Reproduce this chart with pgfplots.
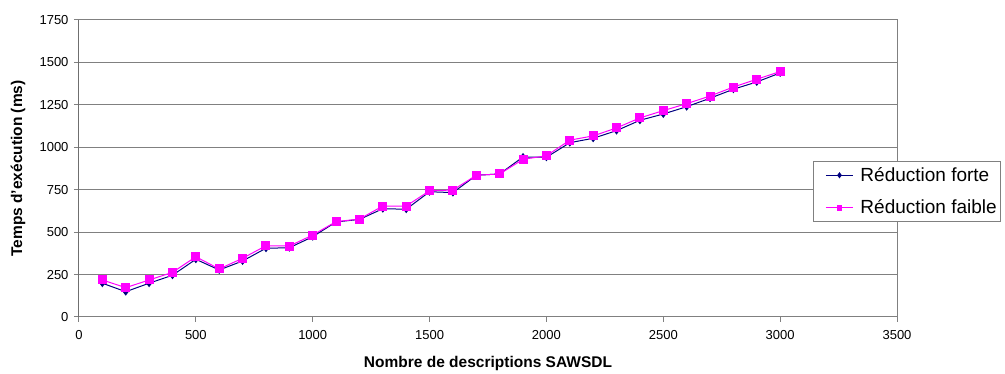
\documentclass[border=0pt]{standalone}
\usepackage{fontspec}
\setmainfont{Liberation Sans}
\usepackage{pgfplots}
\pgfplotsset{compat=1.18}
\definecolor{forte}{RGB}{0,0,128}
\definecolor{faible}{RGB}{255,0,255}
\definecolor{gridc}{RGB}{128,128,128}
\begin{document}
\begin{tikzpicture}
\useasboundingbox (-79pt,-57pt) rectangle (926pt,317pt);
\begin{axis}[
  at={(0pt,0pt)}, anchor=south west,
  scale only axis, width=818pt, height=297pt,
  xmin=0, xmax=3500, ymin=0, ymax=1750,
  xtick={0,500,...,3500}, ytick={0,250,...,1750},
  tick pos=left, tick align=outside,
  major tick length=5pt,
  tick style={gridc, line width=1pt},
  axis line style={gridc, line width=1pt},
  ymajorgrids, grid style={gridc, line width=1pt},
  /pgf/number format/assume math mode=true,
  /pgf/number format/1000 sep={},
  ticklabel style={font=\fontsize{13}{15}\selectfont},
  xticklabel style={yshift=-5pt},
  yticklabel style={xshift=-2pt},
  xlabel={Nombre de descriptions SAWSDL},
  ylabel={Temps d'exécution (ms)},
  every axis x label/.style={at={(axis description cs:0.5,-0.155)},anchor=center,font=\bfseries\fontsize{15.5}{18}\selectfont},
  every axis y label/.style={at={(axis description cs:-0.0746,0.5)},rotate=90,anchor=center,font=\bfseries\fontsize{15.5}{18}\selectfont},
  legend style={at={(axis description cs:0.8973,0.3199)}, anchor=south west,
    draw=gridc, line width=1pt, fill=white,
    font=\fontsize{19}{22}\selectfont, row sep=13pt, inner ysep=4pt, inner xsep=2pt},
  legend cell align=left,
  legend image code/.code={\path (0pt,0pt) (42pt,0pt);\draw[mark repeat=2,mark phase=2,mark size=2.3pt] plot coordinates {(10pt,0pt) (23.5pt,0pt) (37pt,0pt)};},
]
\addplot[forte, line width=1pt, mark=diamond*, mark size=3.2pt, mark options={solid}] coordinates {
(100,199) (200,149) (300,199) (400,246) (500,340) (600,277) (700,330) (800,405) (900,408) (1000,473)
(1100,560) (1200,575) (1300,638) (1400,635) (1500,738) (1600,733) (1700,835) (1800,843) (1900,943) (2000,941)
(2100,1027) (2200,1053) (2300,1098) (2400,1159) (2500,1196) (2600,1239) (2700,1289) (2800,1342) (2900,1385) (3000,1438)
};
\addlegendentry{Réduction forte}
\addplot[faible, line width=1pt, mark=square*, mark size=4pt, mark options={solid}] coordinates {
(100,218) (200,173) (300,218) (400,263) (500,355) (600,283) (700,346) (800,420) (900,418) (1000,483)
(1100,562) (1200,577) (1300,654) (1400,654) (1500,744) (1600,748) (1700,835) (1800,843) (1900,929) (2000,950)
(2100,1042) (2200,1067) (2300,1114) (2400,1173) (2500,1216) (2600,1257) (2700,1302) (2800,1355) (2900,1401) (3000,1446)
};
\addlegendentry{Réduction faible}
\draw[black, line width=1pt] (rel axis cs:0,0) -- (rel axis cs:0,1);
\end{axis}
\end{tikzpicture}
\end{document}
